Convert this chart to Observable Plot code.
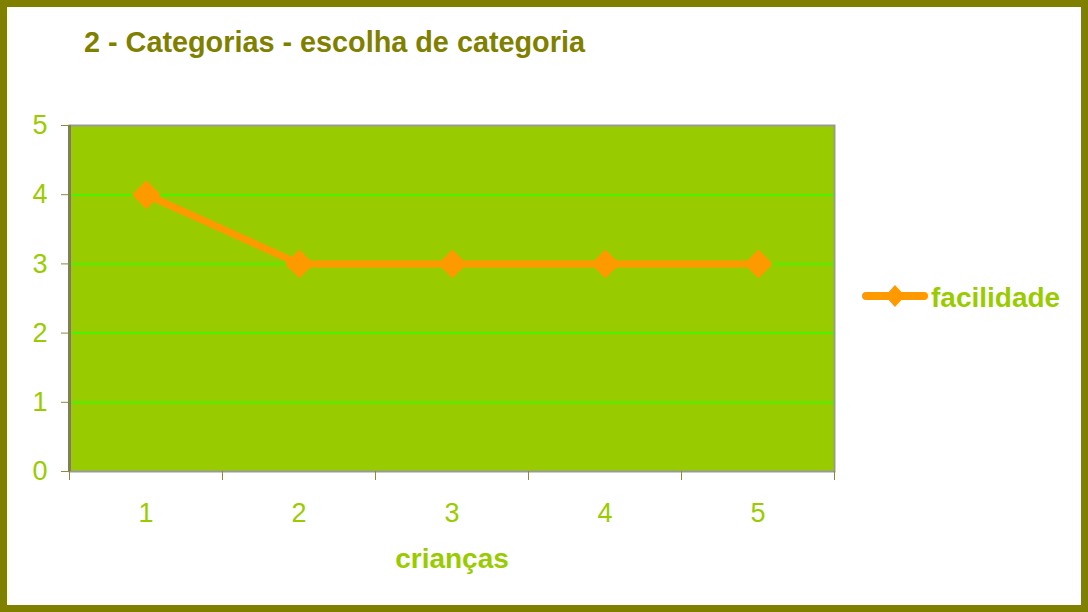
<!DOCTYPE html>
<html>
<head>
<meta charset="utf-8">
<script src="https://cdn.jsdelivr.net/npm/d3@7"></script>
<script src="https://cdn.jsdelivr.net/npm/@observablehq/plot@0.6"></script>
<style>
  html, body { margin: 0; padding: 0; background: #fff; }
  #wrap { position: relative; width: 1088px; height: 612px; overflow: hidden; font-family: "Liberation Sans", Arial, sans-serif; }
  #chart { position: absolute; left: 0; top: 0; }
  #border { position: absolute; left: 0; top: 0; width: 1088px; height: 612px; box-sizing: border-box; border: 7px solid #808000; pointer-events: none; }
  .t { position: absolute; line-height: 1; white-space: nowrap; font-weight: bold; }
  #title { left: 84px; top: 28px; font-size: 28.8px; color: #808000; }
  #xlabel { left: 452px; top: 545px; font-size: 28px; color: #99cc00; transform: translateX(-50%); }
  #legend { position: absolute; left: 858px; top: 280px; height: 34px; }
  #legtext { left: 931px; top: 284px; font-size: 28px; color: #99cc00; }
</style>
</head>
<body>
<div id="wrap">
  <div id="chart"></div>
  <div id="title" class="t"></div>
  <div id="xlabel" class="t"></div>
  <svg id="legend" width="72" height="34"></svg>
  <div id="legtext" class="t"></div>
  <div id="border"></div>
</div>
<script>
const titleText = "2 - Categorias - escolha de categoria";
const xLabel = "crianças";
const seriesName = "facilidade";
const categories = [1, 2, 3, 4, 5];
const values = [4, 3, 3, 3, 3];
const yTicks = [0, 1, 2, 3, 4, 5];

const data = categories.map((c, i) => ({crianca: c, valor: values[i]}));
const edges = [categories[0] - 0.5, ...categories.map(c => c + 0.5)];

const olive = "#8a8a3a";
const lime = "#99cc00";
const orange = "#ff9900";

const chart = Plot.plot({
  width: 1088,
  height: 612,
  marginLeft: 69,
  marginRight: 254,
  marginTop: 125,
  marginBottom: 141,
  style: {fontFamily: "'Liberation Sans', Arial, sans-serif", background: "transparent", overflow: "visible"},
  x: {type: "linear", domain: [edges[0], edges[edges.length - 1]]},
  y: {domain: [0, 5]},
  marks: [
    Plot.frame({fill: lime, stroke: null}),
    Plot.gridY([1, 2, 3, 4], {stroke: "#33ff00", strokeOpacity: 1, strokeWidth: 1.5}),
    Plot.frame({stroke: "#999999", strokeWidth: 2}),
    Plot.ruleX([edges[0]], {stroke: "#80804a", strokeWidth: 3}),
    Plot.axisY({ticks: yTicks, tickSize: 8, tickPadding: 14, stroke: olive, fill: lime, fontSize: 27, label: null, tickFormat: d => String(d)}),
    Plot.axisX({ticks: edges, tickSize: 9, tickFormat: () => "", stroke: olive, label: null}),
    Plot.axisX({ticks: categories, tickSize: 0, tickPadding: 31, fill: lime, fontSize: 27, label: null, tickFormat: d => String(d)}),
    Plot.line(data, {x: "crianca", y: "valor", stroke: orange, strokeWidth: 7}),
    Plot.dot(data, {x: "crianca", y: "valor", symbol: "diamond2", r: 13, fill: orange, stroke: null})
  ]
});
document.getElementById("chart").appendChild(chart);

document.getElementById("title").textContent = titleText;
document.getElementById("xlabel").textContent = xLabel;
document.getElementById("legtext").textContent = seriesName;

const leg = d3.select("#legend");
leg.append("line").attr("x1", 8).attr("x2", 66).attr("y1", 16).attr("y2", 16)
  .attr("stroke", orange).attr("stroke-width", 8).attr("stroke-linecap", "round");
leg.append("path").attr("d", "M37,5 L47,16 L37,27 L27,16 Z").attr("fill", orange);
</script>
</body>
</html>
